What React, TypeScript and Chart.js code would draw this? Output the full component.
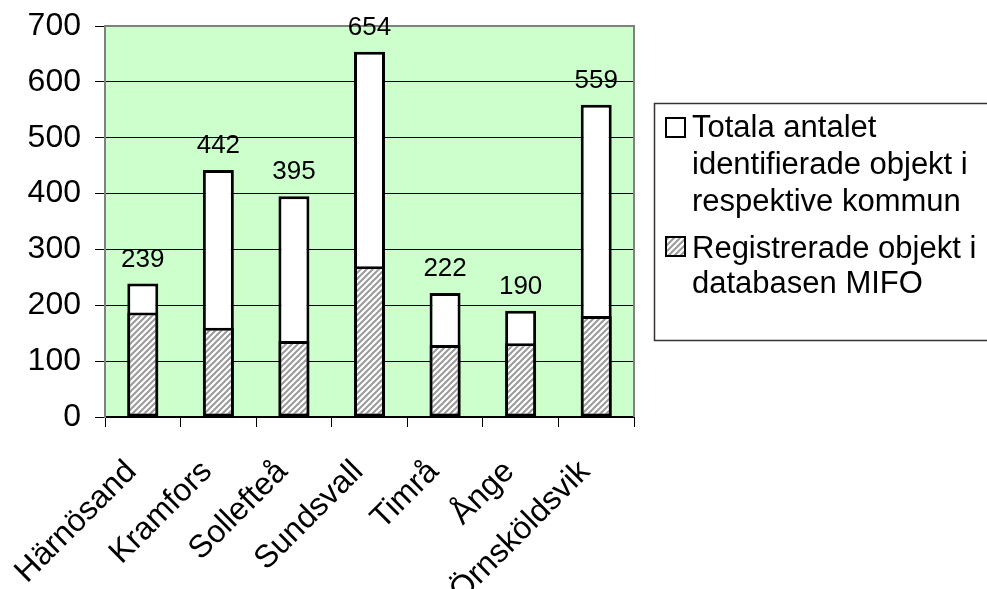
import React, { useEffect, useRef } from 'react';
import { Chart, registerables } from 'chart.js';

Chart.register(...registerables);

const categories = ['Härnösand', 'Kramfors', 'Sollefteå', 'Sundsvall', 'Timrå', 'Ånge', 'Örnsköldsvik'];
const totalObjects = [239, 442, 395, 654, 222, 190, 559];
const registeredObjects = [187, 160, 136, 270, 129, 132, 181];
const yMin = 0;
const yMax = 700;
const yStep = 100;
const legendTotalLines = ['Totala antalet', 'identifierade objekt i', 'respektive kommun'];
const legendRegisteredLines = ['Registrerade objekt i', 'databasen MIFO'];

const FONT = '"Liberation Sans", Arial, sans-serif';

function makeHatch(): CanvasPattern | string {
  const c = document.createElement('canvas');
  const s = 6;
  c.width = s;
  c.height = s;
  const g = c.getContext('2d');
  if (!g) return '#cccccc';
  g.fillStyle = '#ffffff';
  g.fillRect(0, 0, s, s);
  g.strokeStyle = '#9a9a9a';
  g.lineWidth = 2;
  g.beginPath();
  g.moveTo(-1, s + 1);
  g.lineTo(s + 1, -1);
  g.moveTo(-1, 1);
  g.lineTo(1, -1);
  g.moveTo(s - 1, s + 1);
  g.lineTo(s + 1, s - 1);
  g.stroke();
  const p = g.createPattern(c, 'repeat');
  return p || '#cccccc';
}

export default function App() {
  const ref = useRef<HTMLCanvasElement | null>(null);

  useEffect(() => {
    if (!ref.current) return;
    const hatch = makeHatch();

    const plotBg = {
      id: 'plotBg',
      beforeDraw(chart: any) {
        const { ctx, chartArea: a } = chart;
        ctx.save();
        ctx.fillStyle = '#CCFFCC';
        ctx.fillRect(a.left, a.top, a.right - a.left, a.bottom - a.top);
        ctx.restore();
      },
      beforeDatasetsDraw(chart: any) {
        const { ctx, chartArea: a } = chart;
        ctx.save();
        ctx.strokeStyle = '#808080';
        ctx.lineWidth = 2;
        ctx.beginPath();
        ctx.moveTo(a.left, a.bottom);
        ctx.lineTo(a.left, a.top);
        ctx.lineTo(a.right, a.top);
        ctx.lineTo(a.right, a.bottom);
        ctx.stroke();
        ctx.restore();
      },
    };

    const totalLabels = {
      id: 'totalLabels',
      afterDatasetsDraw(chart: any) {
        const { ctx } = chart;
        const meta = chart.getDatasetMeta(1);
        ctx.save();
        ctx.fillStyle = '#000';
        ctx.font = `26px ${FONT}`;
        ctx.textAlign = 'center';
        ctx.textBaseline = 'alphabetic';
        meta.data.forEach((bar: any, i: number) => {
          ctx.fillText(String(totalObjects[i]), bar.x, bar.y - 17);
        });
        ctx.restore();
      },
    };

    const xLabels = {
      id: 'xLabels',
      afterDraw(chart: any) {
        const { ctx } = chart;
        const xs = chart.scales.x;
        ctx.save();
        ctx.fillStyle = '#000';
        ctx.font = `32px ${FONT}`;
        ctx.textAlign = 'right';
        ctx.textBaseline = 'alphabetic';
        categories.forEach((c, i) => {
          const x = xs.getPixelForTick(i) - 5;
          const y = xs.top + 56;
          ctx.save();
          ctx.translate(x, y);
          ctx.rotate(-Math.PI / 4);
          ctx.fillText(c, 0, 0);
          ctx.restore();
        });
        ctx.restore();
      },
    };

    const legendBox = {
      id: 'legendBox',
      afterDraw(chart: any) {
        const { ctx } = chart;
        ctx.save();
        ctx.strokeStyle = '#333333';
        ctx.lineWidth = 1.5;
        ctx.strokeRect(654.5, 103.5, 340, 237);
        ctx.font = `31px ${FONT}`;
        ctx.textAlign = 'left';
        ctx.textBaseline = 'alphabetic';
        // item 1
        ctx.fillStyle = '#ffffff';
        ctx.fillRect(666, 118, 19, 19);
        ctx.strokeStyle = '#000';
        ctx.lineWidth = 2;
        ctx.strokeRect(666, 118, 19, 19);
        ctx.fillStyle = '#000';
        const base1 = [137, 174, 211];
        legendTotalLines.forEach((t, i) => ctx.fillText(t, 692, base1[i]));
        // item 2
        ctx.fillStyle = hatch as any;
        ctx.fillRect(666, 237, 19, 19);
        ctx.strokeRect(666, 237, 19, 19);
        ctx.fillStyle = '#000';
        const base2 = [258, 293];
        legendRegisteredLines.forEach((t, i) => ctx.fillText(t, 692, base2[i]));
        ctx.restore();
      },
    };

    const chart = new Chart(ref.current, {
      type: 'bar',
      data: {
        labels: categories,
        datasets: [
          {
            label: legendRegisteredLines.join(' '),
            data: registeredObjects,
            backgroundColor: hatch as any,
            borderColor: '#000',
            borderWidth: 3,
            borderSkipped: false,
            barPercentage: 0.41,
            categoryPercentage: 1,
          },
          {
            label: legendTotalLines.join(' '),
            data: totalObjects,
            backgroundColor: '#ffffff',
            borderColor: '#000',
            borderWidth: 3,
            borderSkipped: false,
            barPercentage: 0.41,
            categoryPercentage: 1,
          },
        ],
      },
      options: {
        animation: false,
        responsive: true,
        maintainAspectRatio: false,
        layout: { padding: { left: 0, top: 26, right: 353, bottom: 0 } },
        plugins: {
          legend: { display: false },
          tooltip: { enabled: false },
          title: { display: false },
        },
        scales: {
          x: {
            stacked: true,
            offset: true,
            grid: {
              display: true,
              drawOnChartArea: false,
              drawTicks: true,
              tickLength: 10,
              color: '#000',
              lineWidth: 1,
              offset: true,
            },
            border: { display: true, color: '#000', width: 2 },
            ticks: {
              display: false,
              autoSkip: false,
            },
            afterFit(scale: any) {
              scale.height = 172;
              scale.paddingLeft = 0;
              scale.paddingRight = 0;
            },
          },
          y: {
            stacked: false,
            min: yMin,
            max: yMax,
            grid: {
              color: '#000',
              lineWidth: 1,
              drawTicks: true,
              tickLength: 10,
              tickColor: '#000',
            },
            border: { display: true, color: '#808080', width: 2 },
            ticks: {
              stepSize: yStep,
              color: '#000',
              font: { family: FONT, size: 32 },
              padding: 14,
            },
            afterFit(scale: any) {
              scale.width = 105;
              scale.paddingTop = 0;
              scale.paddingBottom = 0;
            },
          },
        },
      },
      plugins: [plotBg, totalLabels, xLabels, legendBox],
    });

    return () => chart.destroy();
  }, []);

  return (
    <div style={{ position: 'fixed', left: 0, top: 0, width: 987, height: 589, background: '#fff' }}>
      <canvas ref={ref} />
    </div>
  );
}
